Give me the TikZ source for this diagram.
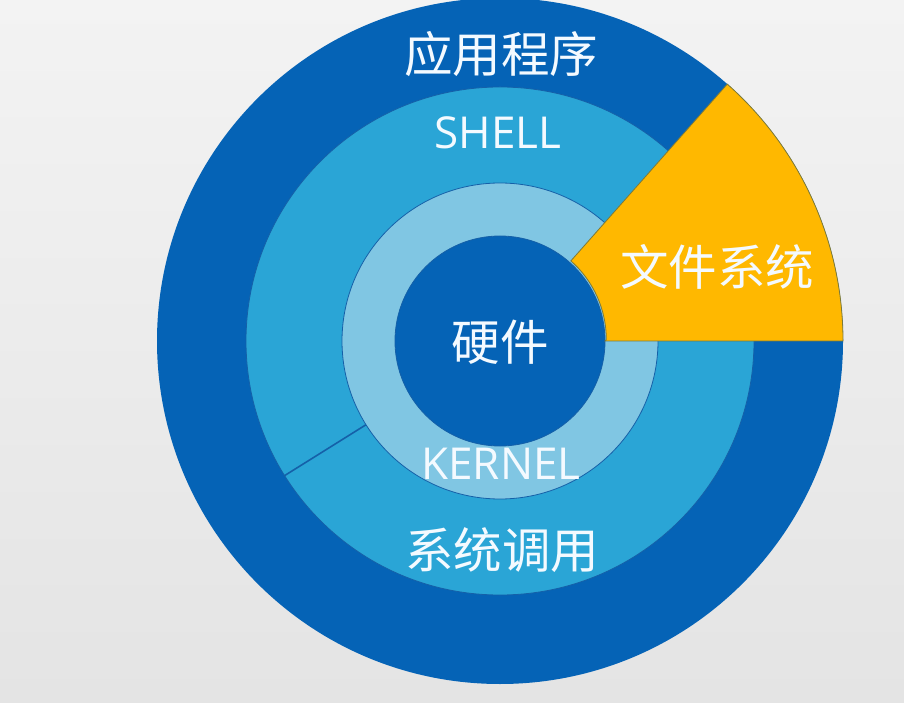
\documentclass[tikz,border=0pt]{standalone}
\usepackage{fontspec}
\setmainfont{Noto Sans CJK SC}
\newfontfamily\latinfont{Open Sans}
\definecolor{bgtop}{HTML}{F3F3F3}
\definecolor{bgbot}{HTML}{E4E4E4}
\definecolor{darkblue}{HTML}{0563B6}
\definecolor{midblue}{HTML}{2AA5D6}
\definecolor{lightblue}{HTML}{80C6E3}
\definecolor{edgeblue}{HTML}{1560A8}
\definecolor{fsyellow}{HTML}{FFB800}
\definecolor{fsedge}{HTML}{7C7A3A}
\definecolor{txt}{HTML}{F4FAFF}
\tikzset{
  lbl/.style={text=txt, font=\fontsize{48.5}{52}\selectfont, inner sep=0pt},
  lbllat/.style={text=txt, font=\latinfont\fontsize{44}{48}\selectfont, inner sep=0pt},
  ring/.style={draw=edgeblue, line width=0.8pt},
}
\begin{document}
\begin{tikzpicture}[x=1pt,y=1pt]
\useasboundingbox (0,0) rectangle (904,702);
\shade[top color=bgtop, bottom color=bgbot] (0,0) rectangle (904,702);
\begin{scope}[shift={(500,361)}]
  \fill[darkblue] (0,0) circle[radius=343];
  \filldraw[ring, fill=midblue] (0,0) circle[radius=254];
  \filldraw[ring, fill=lightblue] (0,0) circle[radius=158];
  \filldraw[ring, fill=darkblue] (0,0) circle[radius=105];
  \filldraw[draw=fsedge, line width=0.8pt, fill=fsyellow]
    (0:105) -- (0:343) arc[start angle=0, end angle=48.5, radius=343]
    -- (48.5:107) arc[start angle=48.5, end angle=0, radius=105] -- cycle;
  \coordinate (s1) at (212:158);
  \coordinate (s2) at (212:254);
  \draw[edgeblue, line width=1.6pt] (s1) -- (s2);
\end{scope}
\node[lbl] (app) at (501,648) {应用程序};
\node[lbllat] (shell) at (498,569) {SHELL};
\node[lbl] (fs) at (717,435) {文件系统};
\node[lbl] (hw) at (500,360) {硬件};
\node[lbllat] (kernel) at (501,238) {KERNEL};
\node[lbl] (sys) at (502,152) {系统调用};
\end{tikzpicture}
\end{document}
